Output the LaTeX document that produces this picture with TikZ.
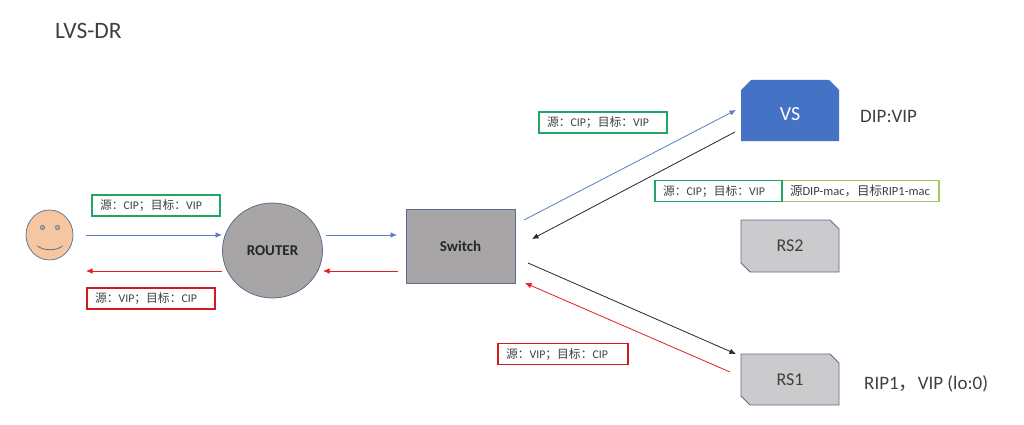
\documentclass[tikz,border=0pt]{standalone}
\usepackage{fontspec}
\setmainfont{Carlito}
\newfontfamily\cjk{Noto Sans CJK SC}
\usetikzlibrary{arrows.meta,shapes.geometric}
\definecolor{bluel}{HTML}{5B7FBE}
\definecolor{redl}{HTML}{E02020}
\definecolor{greenb}{HTML}{22A565}
\definecolor{limeb}{HTML}{9CCB60}
\definecolor{redb}{HTML}{D01A20}
\definecolor{vsblue}{HTML}{4472C4}
\definecolor{edge}{HTML}{5A6E8C}
\definecolor{rsgrey}{HTML}{CBCBCD}
\definecolor{routergrey}{HTML}{A8A5A6}
\definecolor{facefill}{HTML}{F6C6A0}
\definecolor{txt}{HTML}{404040}
\tikzset{
  x=1pt,y=-1pt,
  conn/.style={-{Latex[length=6.5pt,width=5.5pt]},line width=.8pt},
  tagbox/.style={draw,line width=1.6pt,minimum height=21pt,inner ysep=0pt,inner xsep=8pt,align=left,font=\fontsize{11.8}{13}\selectfont,text=txt},
  srv/.style={draw=edge,line width=.8pt,fill=rsgrey},
  lab/.style={font=\fontsize{19}{21}\selectfont,text=txt},
}
\newcommand{\srcdst}[2]{{\cjk 源：}#1{\cjk ；目标：}#2}
\begin{document}
\begin{tikzpicture}
\useasboundingbox (0,0) rectangle (1024,425);
\fill[white] (0,0) rectangle (1024,425);
\node[font=\fontsize{23.5}{26}\selectfont,text=txt,anchor=west,inner sep=0pt] (title) at (55,31) {LVS-DR};
% user
\node[draw=edge,fill=facefill,ellipse,minimum width=47pt,minimum height=50pt,inner sep=0pt,line width=.7pt] (user) at (49.5,235) {};
\fill[routergrey,draw=edge] (42.5,227.5) circle (2.3pt) (57.5,227.5) circle (2.3pt);
\draw[edge,line width=.8pt] (37.5,246) .. controls (44,251) and (56,251) .. (62.5,246);
% router and switch
\node[draw=edge,fill=routergrey,ellipse,minimum width=100pt,minimum height=95pt,inner sep=0pt,line width=.8pt,font=\fontsize{15}{17}\selectfont\bfseries,text=black!85] (router) at (272.5,250.5) {ROUTER};
\node[draw=edge,fill=routergrey,minimum width=109pt,minimum height=74pt,inner sep=0pt,line width=.8pt,font=\fontsize{15}{17}\selectfont\bfseries,text=black!85] (switch) at (460.5,246) {Switch};
% servers
\fill[vsblue] (751,80) -- (829,80) -- (839,90) -- (839,141) -- (741,141) -- (741,90) -- cycle;
\node[text=white,font=\fontsize{20}{22}\selectfont] (vs) at (790,114) {VS};
\draw[srv] (741,220) -- (830,220) -- (839,229) -- (839,272) -- (750,272) -- (741,263) -- cycle;
\node[font=\fontsize{18}{20}\selectfont,text=txt] (rs2) at (790,246) {RS2};
\draw[srv] (741,354) -- (830,354) -- (839,363) -- (839,405) -- (750,405) -- (741,396) -- cycle;
\node[font=\fontsize{18}{20}\selectfont,text=txt] (rs1) at (790,380) {RS1};
\node[lab,anchor=west,inner sep=0pt] (dipvip) at (860,116) {DIP:VIP};
\node[lab,anchor=west,inner sep=0pt] (ripvip) at (864,384) {RIP1{\cjk ，}VIP (lo:0)};
% anchor points of connectors
\coordinate (a1) at (86,235); \coordinate (a2) at (222,235);
\coordinate (b1) at (326,235); \coordinate (b2) at (397,235);
\coordinate (c1) at (222,271); \coordinate (c2) at (86,271);
\coordinate (d1) at (398,271); \coordinate (d2) at (323,271);
\coordinate (e1) at (524,220); \coordinate (e2) at (736,110);
\coordinate (f1) at (735,132); \coordinate (f2) at (532,239);
\coordinate (g1) at (528,263); \coordinate (g2) at (736,354);
\coordinate (h1) at (730,372); \coordinate (h2) at (525,283);
\draw[conn,bluel] (a1) -- (a2);
\draw[conn,bluel] (b1) -- (b2);
\draw[conn,redl] (c1) -- (c2);
\draw[conn,redl] (d1) -- (d2);
\draw[conn,bluel] (e1) -- (e2);
\draw[conn,black!85] (f1) -- (f2);
\draw[conn,black!85] (g1) -- (g2);
\draw[conn,redl] (h1) -- (h2);
% tags
\node[tagbox,draw=greenb,text width=112pt] (t1) at (156,205.5) {\srcdst{CIP}{VIP}};
\node[tagbox,draw=redb,text width=112pt] (t2) at (151,298.5) {\srcdst{VIP}{CIP}};
\node[tagbox,draw=greenb,text width=112pt] (t3) at (603,122.5) {\srcdst{CIP}{VIP}};
\node[tagbox,draw=limeb,text width=141pt,line width=1.3pt,font=\fontsize{12.5}{14}\selectfont] (t5) at (860.5,191) {{\cjk 源}DIP-mac{\cjk ，目标}RIP1-mac};
\node[tagbox,draw=greenb,text width=111pt] (t4) at (718.5,191) {\srcdst{CIP}{VIP}};
\node[tagbox,draw=redb,text width=114pt] (t6) at (563,354) {\srcdst{VIP}{CIP}};
\end{tikzpicture}
\end{document}
